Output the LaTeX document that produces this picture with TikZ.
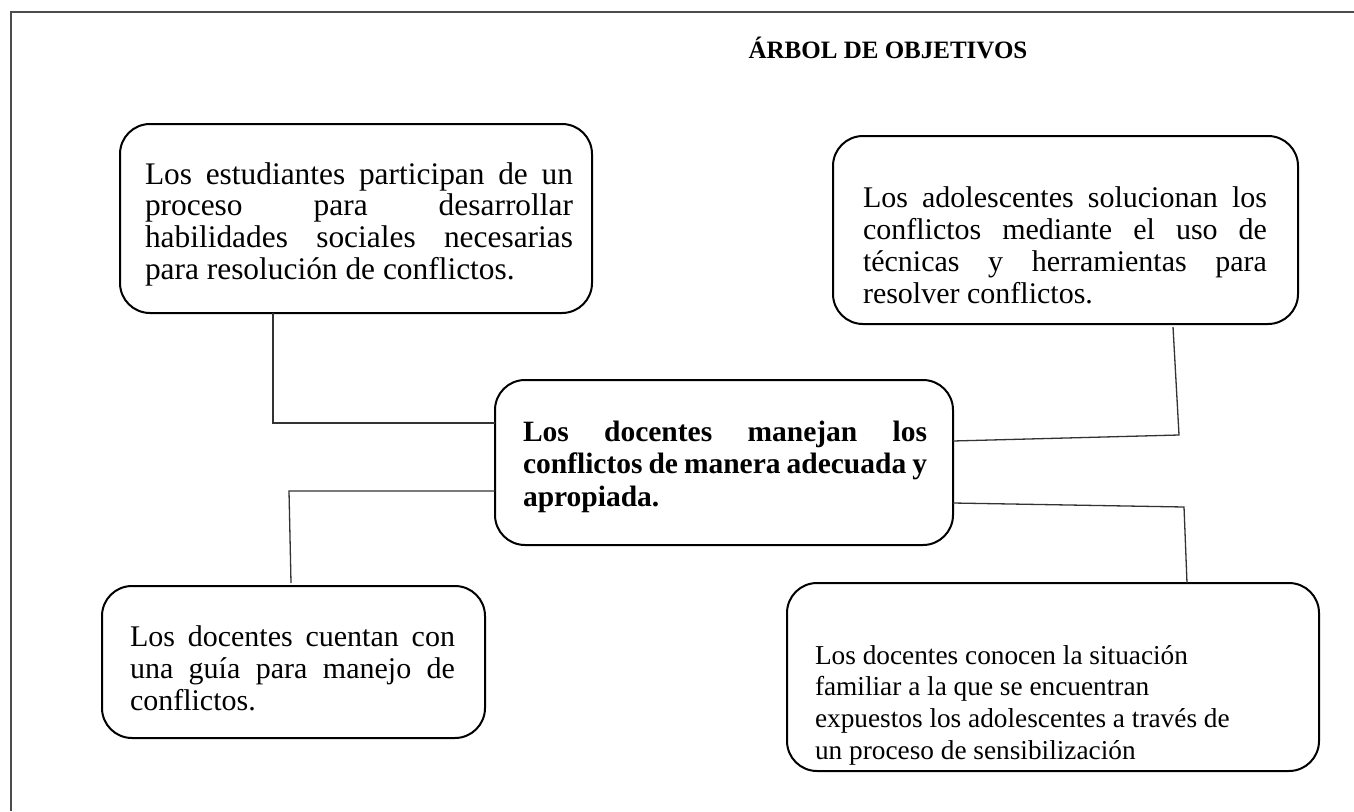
\documentclass[tikz,border=0pt]{standalone}
\usepackage{fontspec}
\setmainfont{Liberation Serif}
\hbadness=10000
\hfuzz=20pt
% #1 box width, #2 box height, #3 left pad, #4 top pad, #5 text width, #6 text
\newcommand{\bxt}[6]{\parbox[c][#2pt][t]{#1pt}{\vspace*{#4pt}\hspace*{#3pt}\parbox[t]{#5pt}{\rule{0pt}{22pt}#6}}}
\tikzset{
  box/.style={draw=black, line width=2pt, rounded corners=30pt, inner sep=0pt, outer sep=0pt},
  link/.style={draw=black!80, line width=1.3pt},
  frame/.style={draw=black!70, line width=1.6pt},
  body/.style={font=\fontsize{30}{32}\selectfont},
}
\begin{document}
\begin{tikzpicture}[x=1pt,y=-1pt]
\useasboundingbox (0,0) rectangle (1354,811);
\draw[frame] (11,811) -- (11,12) -- (1354,12);
\node[font=\fontsize{25}{28}\selectfont\bfseries] (title) at (888,48) {ÁRBOL DE OBJETIVOS};

\node[box, font=\fontsize{31.4}{31.8}\selectfont] (tl) at (356,218.5) {\bxt{472}{189}{25}{38}{428}{Los estudiantes participan de un\linebreak proceso para desarrollar\linebreak habilidades sociales necesarias\linebreak para resolución de conflictos.}};
\node[box, body] (tr) at (1065.5,230) {\bxt{465}{188}{30}{49}{404}{Los adolescentes solucionan los\linebreak conflictos mediante el uso de\linebreak técnicas y herramientas para\linebreak resolver conflictos.}};
\node[box, font=\fontsize{29.5}{32.5}\selectfont\bfseries] (ctr) at (724,462.5) {\bxt{458}{165}{28}{39}{404}{Los docentes manejan los\linebreak conflictos de manera adecuada y\linebreak apropiada.}};
\node[box, body] (bl) at (293.5,662) {\bxt{383}{152}{28}{38}{325}{Los docentes cuentan con\linebreak una guía para manejo de\linebreak conflictos.}};
\node[box, font=\fontsize{27.3}{31.7}\selectfont] (br) at (1053,677) {\bxt{532}{188}{28}{59}{460}{\raggedright Los docentes conocen la situación\\ familiar a la que se encuentran\\ expuestos los adolescentes a través de\\ un proceso de sensibilización}};

\coordinate (k1) at (273,423);
\coordinate (k2) at (1179,435);
\coordinate (k2t) at (1173,327);
\coordinate (k3) at (289,491);
\coordinate (k3b) at (291,583);
\coordinate (k4) at (1184,507);
\coordinate (k4b) at (1187,583);

\draw[link] (tl.south -| k1) -- (k1) -- (k1 -| ctr.west);
\draw[link] (k2t) -- (k2) -- ([yshift=21.5pt]ctr.east);
\draw[link] (ctr.west |- k3) -- (k3) -- (k3b);
\draw[link] ([yshift=-40.5pt]ctr.east) -- (k4) -- (k4b);
\end{tikzpicture}
\end{document}
